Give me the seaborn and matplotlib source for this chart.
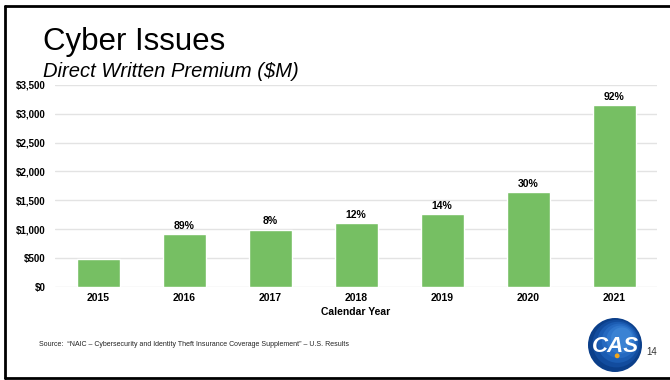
import numpy as np
import pandas as pd
import matplotlib
matplotlib.use("Agg")
import matplotlib.pyplot as plt
from matplotlib.patches import Circle
from matplotlib.lines import Line2D
import seaborn as sns

years = ["2015", "2016", "2017", "2018", "2019", "2020", "2021"]
premium = [484, 916, 988, 1107, 1262, 1640, 3149]
growth = ["", "89%", "8%", "12%", "14%", "30%", "92%"]
y_ticks = [0, 500, 1000, 1500, 2000, 2500, 3000, 3500]

sns.set_theme(style="white")
plt.rcParams["font.family"] = ["Liberation Sans", "DejaVu Sans"]
plt.rcParams["text.color"] = "black"
plt.rcParams["axes.labelcolor"] = "black"

BAR = "#76BF63"
GRID = "#E3E3E3"

fig = plt.figure(figsize=(6.7, 3.8), dpi=100)
W, H = 670, 380

def fx(px):
    return px / W

def fy(py):
    return 1 - py / H

ax = fig.add_axes([fx(55), fy(287), fx(657) - fx(55), fy(84.7) - fy(287)])

df = pd.DataFrame({"year": years, "premium": premium})
sns.barplot(data=df, x="year", y="premium", color=BAR, saturation=1,
            width=0.5, ax=ax, zorder=3)

ax.set_ylim(0, 3500)
ax.set_xlim(-0.5, len(years) - 0.5)
ax.set_yticks(y_ticks)
ax.set_yticklabels([f"${v:,}" for v in y_ticks], fontsize=7, fontweight="bold")
ax.set_xticks(range(len(years)))
ax.set_xticklabels(years, fontsize=7.5, fontweight="bold")
ax.tick_params(axis="both", length=0, colors="black")
ax.tick_params(axis="y", pad=7)
ax.tick_params(axis="x", pad=4)
for v in y_ticks:
    ax.axhline(v, color=GRID, lw=1.0, zorder=1)
for s in ax.spines.values():
    s.set_visible(False)
ax.set_ylabel("")
ax.set_xlabel("Calendar Year", fontsize=7.5, fontweight="bold", labelpad=3,
              color="black")

for i, (v, g) in enumerate(zip(premium, growth)):
    if g:
        ax.annotate(g, (i, v), xytext=(0, 2.5), textcoords="offset points",
                    ha="center", va="bottom", fontsize=7.5, fontweight="bold",
                    color="black")

# slide titles
fig.text(fx(43), fy(50), "Cyber Issues", fontsize=22.5, ha="left",
         va="baseline", color="black")
fig.text(fx(43), fy(77), "Direct Written Premium ($M)", fontsize=14.5,
         style="italic", ha="left", va="baseline", color="black")

# source note and page number
fig.text(fx(39), fy(345), "Source:  \u201cNAIC \u2013 Cybersecurity and Identity Theft Insurance Coverage Supplement\u201d \u2013 U.S. Results",
         fontsize=5.0, ha="left", va="center", color="#222222")
fig.text(fx(646), fy(352), "14", fontsize=7, ha="left", va="center", color="#333333")

# CAS logo
lax = fig.add_axes([fx(588), fy(372), fx(642) - fx(588), fy(318) - fy(372)])
lax.set_xlim(-1, 1)
lax.set_ylim(-1, 1)
lax.set_aspect("equal")
lax.axis("off")
blues = ["#0B3F8A", "#124C9E", "#1B5CB2", "#2569C0", "#2F76CB", "#3A82D3"]
for k, c in enumerate(blues):
    r = 1 - k * 0.12
    lax.add_patch(Circle((0.05 * k, 0.05 * k), r, color=c, lw=0))
lax.text(0, -0.05, "CAS", fontsize=16, fontweight="bold", style="italic",
         color="white", ha="center", va="center")
lax.add_patch(Circle((0.08, -0.4), 0.09, color="#F2A51A", lw=0, zorder=5))

# slide frame
fig.add_artist(Line2D([fx(5), fx(5)], [fy(6), fy(378)], color="black", lw=2))
fig.add_artist(Line2D([fx(5), 1], [fy(6), fy(6)], color="black", lw=2))
fig.add_artist(Line2D([fx(5), 1], [fy(378), fy(378)], color="black", lw=2))

fig.savefig("out.png", dpi=100)
